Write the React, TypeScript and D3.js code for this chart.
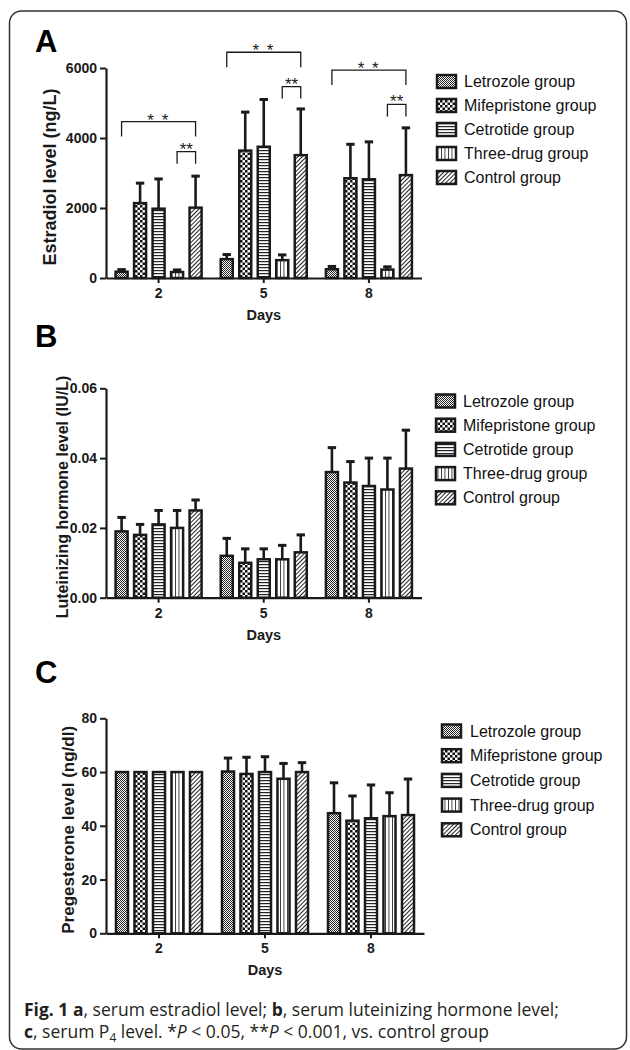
import React, { useEffect, useRef } from 'react';
import * as d3 from 'd3';

const days = ['2', '5', '8'];
const groups = ['Letrozole group', 'Mifepristone group', 'Cetrotide group', 'Three-drug group', 'Control group'];
const patternIds = ['pat-dots', 'pat-check', 'pat-hlines', 'pat-vlines', 'pat-diag'];

// panel A: estradiol (ng/L), one row per day, one column per group
const e2Mean = [
  [180, 2140, 1980, 170, 2010],
  [540, 3640, 3750, 510, 3510],
  [250, 2850, 2820, 240, 2940],
];
const e2Err = [
  [60, 570, 850, 60, 900],
  [130, 1100, 1350, 150, 1320],
  [80, 970, 1070, 80, 1350],
];
const e2Ticks = [0, 2000, 4000, 6000];
// significance brackets: all groups vs control, three-drug vs control
const e2BracketAll = [4470, 6450, 5940];
const e2BracketCtrl = [3610, 5470, 4960];

// panel B: LH (IU/L)
const lhMean = [
  [0.019, 0.018, 0.021, 0.02, 0.025],
  [0.012, 0.01, 0.011, 0.011, 0.013],
  [0.036, 0.033, 0.032, 0.031, 0.037],
];
const lhErr = [
  [0.004, 0.003, 0.004, 0.005, 0.003],
  [0.005, 0.004, 0.003, 0.004, 0.005],
  [0.007, 0.006, 0.008, 0.009, 0.011],
];
const lhTicks = [0, 0.02, 0.04, 0.06];

// panel C: progesterone (ng/dl)
const p4Mean = [
  [60, 60, 60, 60, 60],
  [60.2, 59.3, 60, 57.5, 60],
  [44.7, 41.9, 42.8, 43.6, 44],
];
const p4Err = [
  [0, 0, 0, 0, 0],
  [5, 6.2, 5.7, 5.7, 3.5],
  [11.3, 9.2, 12.4, 8.7, 13.4],
];
const p4Ticks = [0, 20, 40, 60, 80];

const INK = '#1a1a1a';
const ARIAL = 'Arial, "Liberation Sans", sans-serif';

const panels = [
  {
    letter: 'A', letterY: 52, top: 68, bottom: 278, x0: 106, x1: 421.5,
    mean: e2Mean, err: e2Err, ticks: e2Ticks, fmt: d3.format('d'),
    label: 'Estradiol level (ng/L)', labelX: 50, labelSize: 18,
    legX: 437, legTextX: 464, legY: 81.5, legStep: 24, brackets: true,
  },
  {
    letter: 'B', letterY: 347, top: 388.3, bottom: 597.7, x0: 106, x1: 421.5,
    mean: lhMean, err: lhErr, ticks: lhTicks, fmt: d3.format('.2f'),
    label: 'Luteinizing hormone level (IU/L)', labelX: 62, labelSize: 16,
    legX: 436, legTextX: 463, legY: 401, legStep: 24.2, brackets: false,
  },
  {
    letter: 'C', letterY: 683, top: 718.3, bottom: 933.3, x0: 106, x1: 424,
    mean: p4Mean, err: p4Err, ticks: p4Ticks, fmt: d3.format('d'),
    label: 'Pregesterone level (ng/dl)', labelX: 68, labelSize: 17,
    legX: 442, legTextX: 470, legY: 731, legStep: 24.7, brackets: false,
  },
];

function App() {
  const ref = useRef<SVGSVGElement>(null);

  useEffect(() => {
    const svg = d3.select(ref.current);
    svg.selectAll('*').remove();

    const defs = svg.append('defs');
    const pat = (id: string, w: number, h: number, draw: (p: any) => void, transform?: string) => {
      const p = defs.append('pattern').attr('id', id)
        .attr('patternUnits', 'userSpaceOnUse').attr('width', w).attr('height', h);
      if (transform) p.attr('patternTransform', transform);
      p.append('rect').attr('width', w).attr('height', h).attr('fill', '#fff');
      draw(p);
    };
    pat('pat-dots', 2, 2, (p) => {
      p.append('rect').attr('width', 1).attr('height', 1).attr('fill', '#222');
      p.append('rect').attr('x', 1).attr('y', 1).attr('width', 1).attr('height', 1).attr('fill', '#222');
    });
    pat('pat-check', 5, 5, (p) => {
      p.append('rect').attr('width', 2.5).attr('height', 2.5).attr('fill', '#111');
      p.append('rect').attr('x', 2.5).attr('y', 2.5).attr('width', 2.5).attr('height', 2.5).attr('fill', '#111');
    });
    pat('pat-hlines', 3, 3, (p) => {
      p.append('rect').attr('width', 3).attr('height', 1.2).attr('fill', '#222');
    });
    pat('pat-vlines', 3.5, 3.5, (p) => {
      p.append('rect').attr('width', 0.9).attr('height', 3.5).attr('fill', '#333');
    });
    pat('pat-diag', 3, 3, (p) => {
      p.append('rect').attr('width', 1).attr('height', 3).attr('fill', '#222');
    }, 'rotate(45)');

    // outer frame
    svg.append('rect')
      .attr('x', 9.5).attr('y', 11).attr('width', 617).attr('height', 1038).attr('rx', 12)
      .attr('fill', 'none').attr('stroke', '#333').attr('stroke-width', 1.5);

    panels.forEach((p) => {
      const g = svg.append('g');
      const x = d3.scaleBand().domain(days).range([p.x0, p.x1]);
      const inner = d3.scaleBand().domain(groups).range([-46.25, 46.25])
        .paddingInner(0.35).paddingOuter(0.175);
      const y = d3.scaleLinear().domain([0, p.ticks[p.ticks.length - 1]]).range([p.bottom, p.top]);
      const cx = (d: number, i: number) => (x(days[d]) as number) + x.bandwidth() / 2 + (inner(groups[i]) as number) + inner.bandwidth() / 2;

      g.append('text').attr('x', 35).attr('y', p.letterY)
        .attr('font-family', ARIAL).attr('font-weight', 'bold')
        .attr('font-size', 31).attr('fill', '#000').text(p.letter);

      // bars + error bars
      days.forEach((day, d) => {
        groups.forEach((grp, i) => {
          const m = p.mean[d][i];
          const e = p.err[d][i];
          const c = cx(d, i);
          if (e > 0) {
            g.append('line').attr('x1', c).attr('x2', c).attr('y1', y(m)).attr('y2', y(m + e))
              .attr('stroke', INK).attr('stroke-width', 2.6);
            g.append('line').attr('x1', c - 4.2).attr('x2', c + 4.2).attr('y1', y(m + e)).attr('y2', y(m + e))
              .attr('stroke', INK).attr('stroke-width', 3);
          }
          g.append('rect')
            .attr('x', c - inner.bandwidth() / 2).attr('y', y(m))
            .attr('width', inner.bandwidth()).attr('height', y(0) - y(m))
            .attr('fill', `url(#${patternIds[i]})`)
            .attr('stroke', INK).attr('stroke-width', 2.5);
        });
      });

      // axes
      const yAxis = g.append('g').attr('transform', `translate(${p.x0},0)`)
        .call(d3.axisLeft(y).tickValues(p.ticks).tickFormat(p.fmt as any).tickSize(6).tickSizeOuter(0).tickPadding(3));
      const xAxis = g.append('g').attr('transform', `translate(0,${p.bottom})`)
        .call(d3.axisBottom(x).tickSize(5).tickSizeOuter(0).tickPadding(5));
      [yAxis, xAxis].forEach((a) => {
        a.attr('font-family', ARIAL).attr('font-size', 14).attr('font-weight', 'bold');
        a.select('.domain').attr('stroke', INK).attr('stroke-width', 2.2);
        a.selectAll('.tick line').attr('stroke', INK).attr('stroke-width', 2);
        a.selectAll('.tick text').attr('fill', INK);
      });

      g.append('text')
        .attr('transform', `translate(${p.labelX},${(p.top + p.bottom) / 2 + 4}) rotate(-90)`)
        .attr('text-anchor', 'middle').attr('dominant-baseline', 'central')
        .attr('font-family', ARIAL).attr('font-weight', 'bold')
        .attr('font-size', p.labelSize).attr('fill', INK).text(p.label);

      g.append('text').attr('x', (p.x0 + p.x1) / 2).attr('y', p.bottom + 42)
        .attr('text-anchor', 'middle')
        .attr('font-family', ARIAL).attr('font-weight', 'bold')
        .attr('font-size', 14.5).attr('fill', INK).text('Days');

      // legend
      groups.forEach((grp, i) => {
        const ly = p.legY + i * p.legStep;
        g.append('rect').attr('x', p.legX).attr('y', ly - 6.5).attr('width', 19).attr('height', 13)
          .attr('fill', `url(#${patternIds[i]})`).attr('stroke', INK).attr('stroke-width', 2.5);
        g.append('text').attr('x', p.legTextX).attr('y', ly).attr('dominant-baseline', 'central')
          .attr('font-family', ARIAL).attr('font-size', 16)
          .attr('fill', '#111').text(grp);
      });

      // significance brackets
      if (p.brackets) {
        const star = (tx: number, ty: number, s: string, spacing: number) =>
          g.append('text').attr('x', tx).attr('y', ty).attr('text-anchor', 'middle')
            .attr('font-family', ARIAL).attr('font-size', 17)
            .attr('letter-spacing', spacing).attr('fill', INK).text(s);
        days.forEach((day, d) => {
          const a = cx(d, 0), b = cx(d, 4), t = cx(d, 3);
          const yb = y(e2BracketAll[d]);
          g.append('path').attr('d', `M${a},${yb + 15}V${yb}H${b}V${yb + 15}`)
            .attr('fill', 'none').attr('stroke', INK).attr('stroke-width', 1.3);
          star((a + b) / 2, yb + 4, '* *', 1.5);
          const ys = y(e2BracketCtrl[d]);
          g.append('path').attr('d', `M${t},${ys + 12}V${ys}H${b}V${ys + 12}`)
            .attr('fill', 'none').attr('stroke', INK).attr('stroke-width', 1.3);
          star((t + b) / 2, ys + 3, '**', 0);
        });
      }
    });

    // caption
    const cap = svg.append('g').attr('font-family', '"Open Sans", "Noto Sans", sans-serif')
      .attr('font-size', 17.5).attr('fill', '#231f20');
    const line1 = cap.append('text').attr('x', 24).attr('y', 1016);
    line1.append('tspan').attr('font-weight', 'bold').text('Fig. 1 a');
    line1.append('tspan').text(', serum estradiol level; ');
    line1.append('tspan').attr('font-weight', 'bold').text('b');
    line1.append('tspan').text(', serum luteinizing hormone level;');
    const line2 = cap.append('text').attr('x', 24).attr('y', 1038);
    line2.append('tspan').attr('font-weight', 'bold').text('c');
    line2.append('tspan').text(', serum P');
    line2.append('tspan').attr('font-size', 12).attr('dy', 4).text('4');
    line2.append('tspan').attr('dy', -4).text(' level. *');
    line2.append('tspan').attr('font-style', 'italic').text('P');
    line2.append('tspan').text(' < 0.05, **');
    line2.append('tspan').attr('font-style', 'italic').text('P');
    line2.append('tspan').text(' < 0.001, vs. control group');
  }, []);

  return (
    <div style={{ position: 'absolute', left: 0, top: 0 }}>
      <svg ref={ref} width={630} height={1050} style={{ display: 'block' }} />
    </div>
  );
}

export default App;
